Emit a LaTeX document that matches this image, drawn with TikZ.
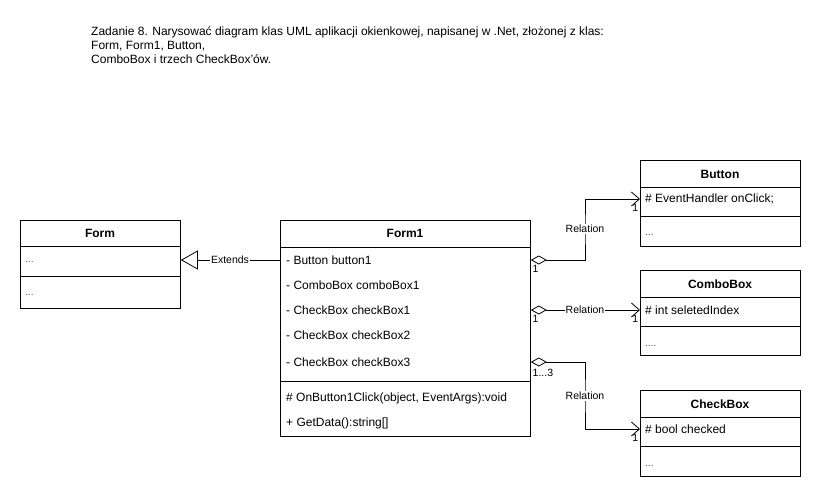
\documentclass[tikz,border=0pt]{standalone}
\usepackage{fontspec}
\setmainfont{Liberation Sans}
\usetikzlibrary{arrows.meta}
\begin{document}
\begin{tikzpicture}[x=1pt,y=-1pt,
  classbox/.style={draw, line width=0.8pt, anchor=north west, inner sep=0pt, minimum width=#1},
  classbox/.default=160pt,
  hdr/.style={font=\fontsize{12}{13}\selectfont\bfseries, inner sep=0pt},
  txt/.style={font=\fontsize{12}{13}\selectfont, anchor=west, inner sep=0pt},
  dots/.style={font=\fontsize{10}{12}\selectfont, anchor=west, inner sep=0pt, text=black!70},
  mult/.style={font=\fontsize{10.5}{12}\selectfont, inner sep=0.5pt},
  rel/.style={font=\fontsize{10.5}{12}\selectfont, fill=white, inner sep=1pt},
  sep/.style={line width=0.8pt},
  conn/.style={line width=0.8pt},
  agg/.style={conn, {Diamond[open,length=16pt,width=9pt]}-{Straight Barb[length=8pt,width=14pt]}},
  ext/.style={conn, -{Triangle[open,length=17pt,width=19pt]}}
]
\useasboundingbox (0,0) rectangle (821,500);

% title
\node[font=\fontsize{12}{14}\selectfont, anchor=north west, inner sep=0pt, align=left] (title) at (91,26)
  {Zadanie 8. Narysować diagram klas UML aplikacji okienkowej, napisanej w .Net, złożonej z klas:\\
   Form, Form1, Button,\\
   ComboBox i trzech CheckBox'ów.};

% Form
\node[classbox, minimum height=88pt] (form) at (20,220) {};
\draw[sep] (20,246) -- (180,246);
\draw[sep] (20,276) -- (180,276);
\node[hdr] (formh) at (100,233) {Form};
\node[dots] (forma) at (25,262) {...};
\node[dots] (formm) at (25,295) {...};

% Form1
\node[classbox=250pt, minimum height=216pt] (form1) at (280,220) {};
\draw[sep] (280,247) -- (530,247);
\draw[sep] (280,381) -- (530,381);
\node[hdr] (form1h) at (405,233) {Form1};
\node[txt] (a1) at (286,260) {- Button button1};
\node[txt] (a2) at (286,285) {- ComboBox comboBox1};
\node[txt] (a3) at (286,310) {- CheckBox checkBox1};
\node[txt] (a4) at (286,335) {- CheckBox checkBox2};
\node[txt] (a5) at (286,362) {- CheckBox checkBox3};
\node[txt] (m1) at (286,398) {\# OnButton1Click(object, EventArgs):void};
\node[txt] (m2) at (286,423) {+ GetData():string[]};

% Button
\node[classbox, minimum height=86pt] (button) at (640,160) {};
\draw[sep] (640,187) -- (800,187);
\draw[sep] (640,216) -- (800,216);
\node[hdr] (buttonh) at (720,174) {Button};
\node[txt] (ba) at (645,199) {\# EventHandler onClick;};
\node[dots] (bm) at (645,235) {...};

% ComboBox
\node[classbox, minimum height=85pt] (combo) at (640,270) {};
\draw[sep] (640,297) -- (800,297);
\draw[sep] (640,326) -- (800,326);
\node[hdr] (comboh) at (720,284) {ComboBox};
\node[txt] (ca) at (645,310) {\# int seletedIndex};
\node[dots] (cm) at (645,346) {....};

% CheckBox
\node[classbox, minimum height=86pt] (check) at (640,390) {};
\draw[sep] (640,417) -- (800,417);
\draw[sep] (640,446) -- (800,446);
\node[hdr] (checkh) at (720,404) {CheckBox};
\node[txt] (ka) at (645,429) {\# bool checked};
\node[dots] (km) at (645,466) {...};

% Extends
\draw[ext] (form1.west |- a1) -- (form.east |- a1);
\node[rel] (extl) at (230,260) {Extends};

% Relations
\coordinate (r1) at (585,229);
\draw[agg] (form1.east |- a1) -| (r1) |- (button.west |- ba);
\node[rel] (r1l) at (r1) {Relation};

\draw[agg] (form1.east |- a3) -- (combo.west |- ca);
\node[rel] (r2l) at (585,310) {Relation};

\coordinate (r3) at (585,396);
\draw[agg] (form1.east |- a5) -| (r3) |- (check.west |- ka);
\node[rel] (r3l) at (r3) {Relation};

% multiplicities
\node[mult, anchor=north west] (n1) at (532,265) {1};
\node[mult, anchor=north west] (n2) at (532,315) {1};
\node[mult, anchor=north west] (n3) at (532,368) {1...3};
\node[mult, anchor=north east] (t1) at (639,204) {1};
\node[mult, anchor=north east] (t2) at (639,315) {1};
\node[mult, anchor=north east] (t3) at (639,434) {1};
\end{tikzpicture}
\end{document}
